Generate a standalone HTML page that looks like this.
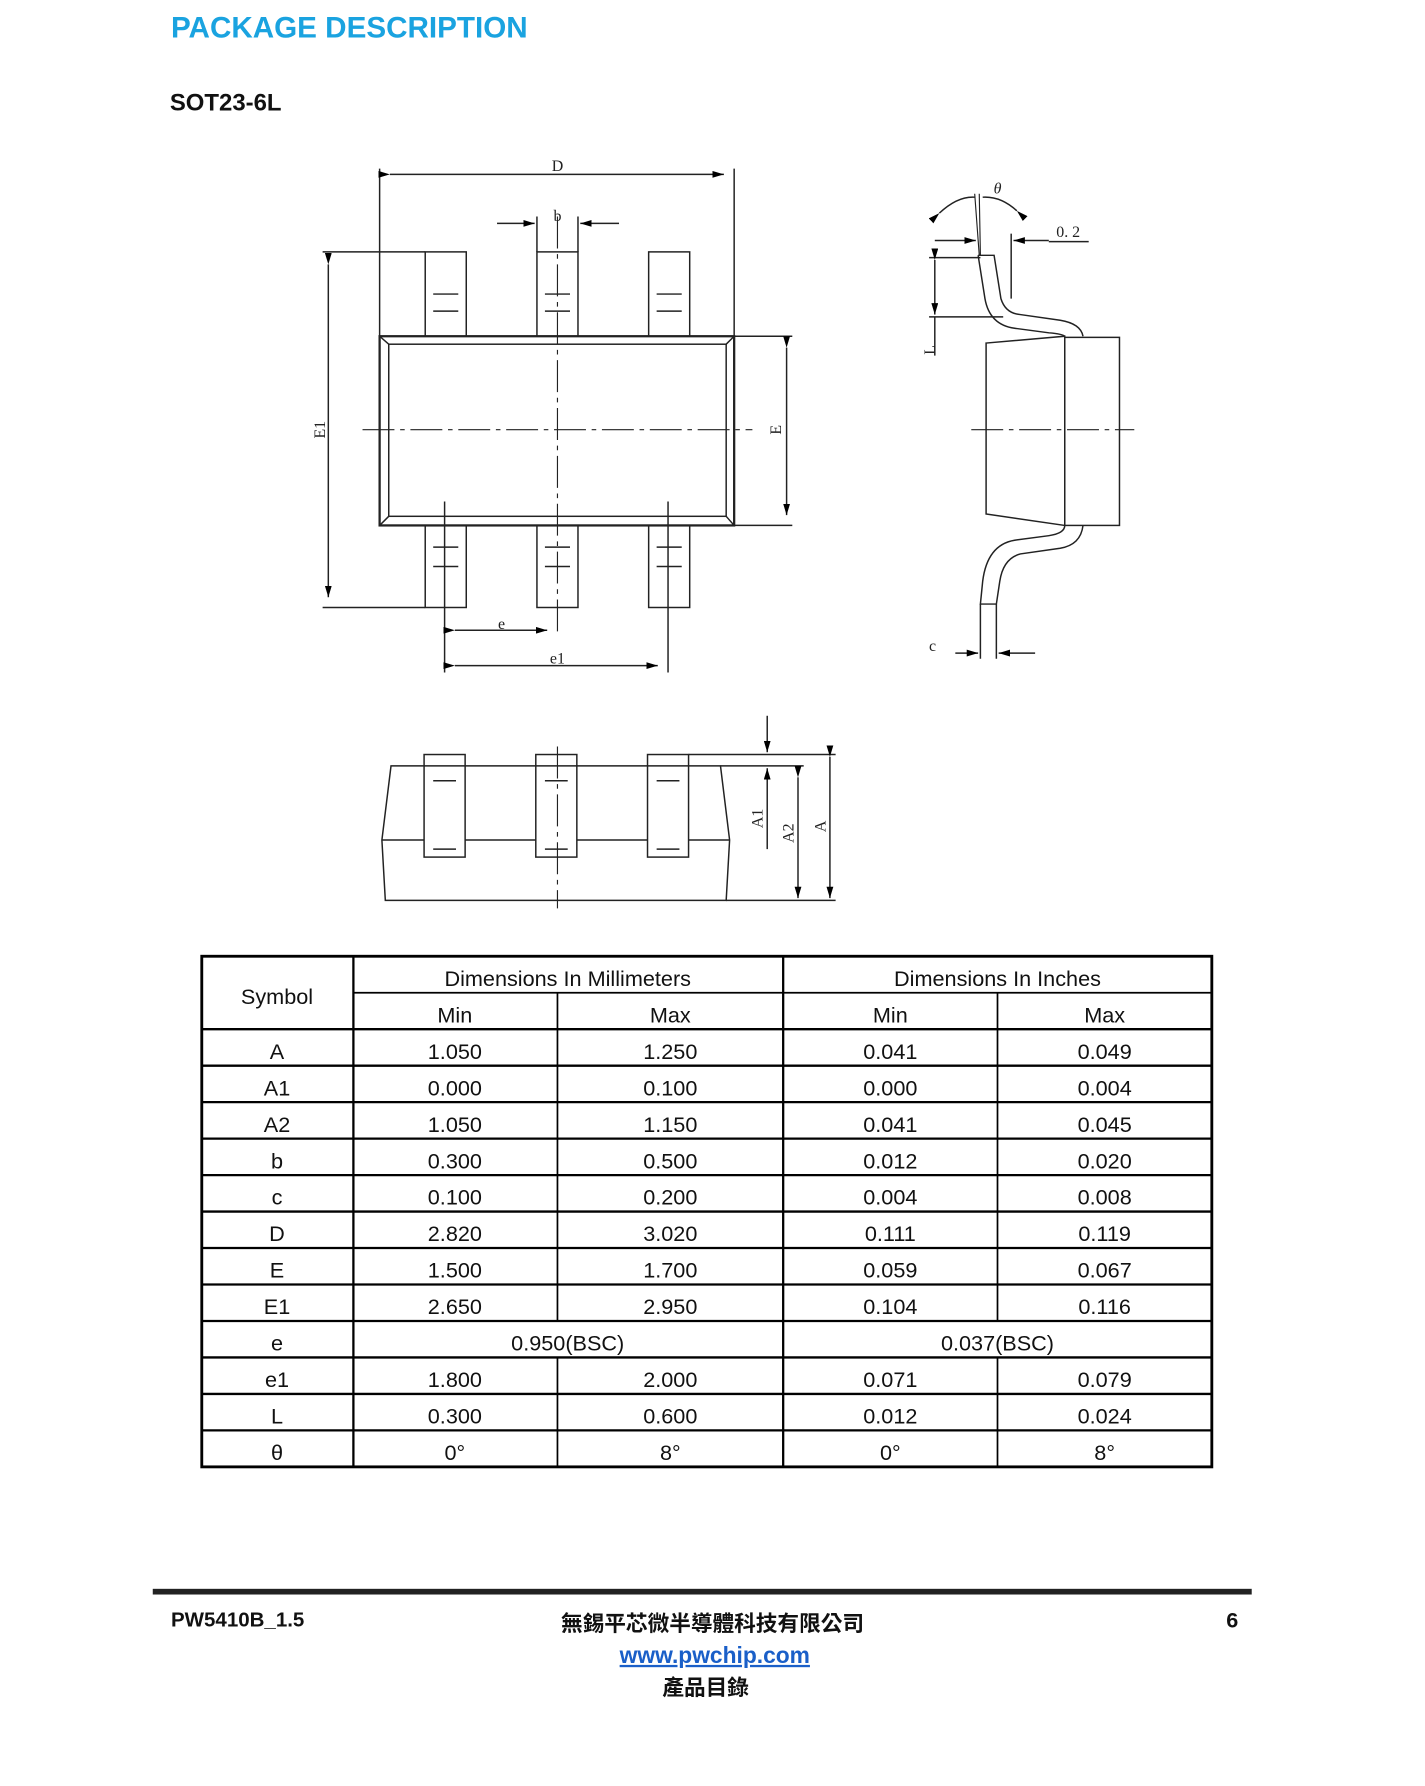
<!DOCTYPE html>
<html><head><meta charset="utf-8"><style>
html,body{margin:0;padding:0;background:#fff;}
svg{display:block;}
</style></head><body>
<svg width="1425" height="1786" viewBox="0 0 1250 1567" preserveAspectRatio="none" xmlns="http://www.w3.org/2000/svg">
<defs>
<marker id="ar" viewBox="0 0 10 6" refX="10" refY="3" markerWidth="10" markerHeight="6" markerUnits="userSpaceOnUse" orient="auto"><path d="M0,0 L10,3 L0,6 z" fill="#000"/></marker>
</defs>
<text x="150" y="33" font-family="Liberation Sans, sans-serif" font-weight="bold" font-size="26" fill="#1aa3e0">PACKAGE DESCRIPTION</text>
<text x="149" y="97" font-family="Liberation Sans, sans-serif" font-weight="bold" font-size="21" fill="#111">SOT23-6L</text>

<g fill="none" stroke="#222" stroke-width="1.3" font-family="Liberation Serif, serif">
<rect x="333" y="295" width="311" height="166" stroke-width="2"/>
<rect x="341" y="302" width="296" height="151"/>
<path d="M333,295 L341,302 M644,295 L637,302 M333,461 L341,453 M644,461 L637,453"/>
<rect x="373" y="221" width="36" height="74"/><rect x="471" y="221" width="36" height="74"/><rect x="569" y="221" width="36" height="74"/>
<rect x="373" y="461" width="36" height="72"/><rect x="471" y="461" width="36" height="72"/><rect x="569" y="461" width="36" height="72"/>
<path d="M380,258h22M380,273h22M478,258h22M478,273h22M576,258h22M576,273h22"/>
<path d="M380,480h22M380,497h22M478,480h22M478,497h22M576,480h22M576,497h22"/>
<path d="M318,377H660" stroke-dasharray="28,5,4,5" stroke-width="1"/>
<path d="M489,190V555" stroke-dasharray="28,5,4,5" stroke-width="1"/>
<path d="M390,440V590M586,440V590"/>
<path d="M333,148V295M644,148V295"/>
<path d="M342,153H635" marker-start="url(#ar)" marker-end="url(#ar)"/>
<path d="M471,190V221M507,190V221"/>
<path d="M436,196H469" marker-end="url(#ar)"/><path d="M543,196H509" marker-end="url(#ar)"/>
<path d="M283,221H373M283,533H373"/>
<path d="M288,232V524" marker-start="url(#ar)" marker-end="url(#ar)"/>
<path d="M644,295H695M644,461H695"/>
<path d="M690,305V452" marker-start="url(#ar)" marker-end="url(#ar)"/>
<path d="M399,553H480" marker-start="url(#ar)" marker-end="url(#ar)"/>
<path d="M399,584H577" marker-start="url(#ar)" marker-end="url(#ar)"/>

<path d="M865,301 L934,295 L934,461 L865,451 Z"/>
<rect x="934" y="296" width="48" height="165"/>
<path d="M858,224 L872,224 L878,262 Q882,275 895,276 L930,281 Q948,284 950,295"/>
<path d="M858,224 L864,262 Q868,285 890,288 L920,292 Q932,293 934,295"/>
<path d="M950,461 Q948,478 930,481 L895,486 Q880,490 877,510 L874,530 L860,530 L862,510 Q866,478 890,474 L920,470 Q934,468 934,461"/>
<path d="M852,377H995" stroke-dasharray="28,5,4,5" stroke-width="1"/>
<path d="M855,170 L859,224M859,170 L860,224" stroke-width="1"/>
<path d="M824,187 Q840,172 855,173" marker-start="url(#ar)"/>
<path d="M892,185 Q878,172 862,173" marker-start="url(#ar)"/>
<path d="M887,205V262"/>
<path d="M820,211H856" marker-end="url(#ar)"/><path d="M920,211H889" marker-end="url(#ar)"/>
<path d="M920,212H955"/>
<path d="M815,226H860M815,278H880"/>
<path d="M820,228V276" marker-start="url(#ar)" marker-end="url(#ar)"/>
<path d="M820,278V312"/>
<path d="M860,530V578M874,530V578"/>
<path d="M838,573H858" marker-end="url(#ar)"/><path d="M908,573H876" marker-end="url(#ar)"/>

<path d="M343,672 L632,672 L640,737 L637,790 L338,790 L335,737 Z"/>
<path d="M335,737H640"/>
<rect x="372" y="662" width="36" height="90" fill="#fff"/><rect x="470" y="662" width="36" height="90" fill="#fff"/><rect x="568" y="662" width="36" height="90" fill="#fff"/>
<path d="M372,672h36M470,672h36M568,672h36"/>
<path d="M380,685h20M478,685h20M576,685h20M380,745h20M478,745h20M576,745h20"/>
<path d="M489,655V797" stroke-dasharray="28,5,4,5" stroke-width="1"/>
<path d="M604,662H733M632,672H705M637,790H733"/>
<path d="M673,628V660" marker-end="url(#ar)"/>
<path d="M673,745V674" marker-end="url(#ar)"/>
<path d="M700,682V788" marker-start="url(#ar)" marker-end="url(#ar)"/>
<path d="M728,664V788" marker-start="url(#ar)" marker-end="url(#ar)"/>
</g>
<g font-family="Liberation Serif, serif" font-size="14" fill="#222" text-anchor="middle">
<text x="489" y="150">D</text>
<text x="489" y="194">b</text>
<text x="440" y="552">e</text>
<text x="489" y="582">e1</text>
<text x="875" y="170" font-style="italic">θ</text>
<text x="937" y="208">0. 2</text>
<text x="818" y="571">c</text>
<text transform="translate(285,377) rotate(-90)">E1</text>
<text transform="translate(685,377) rotate(-90)">E</text>
<text transform="translate(820,307) rotate(-90)">L</text>
<text transform="translate(669,718) rotate(-90)">A1</text>
<text transform="translate(696,731) rotate(-90)">A2</text>
<text transform="translate(724,725) rotate(-90)">A</text>
</g>

<g stroke="#000" fill="none">
<rect x="177" y="839" width="886" height="448" stroke-width="2.5"/>
<path d="M310,839V1287M687,839V1287" stroke-width="2"/>
<path d="M489,871V1159M875,871V1159M489,1191V1287M875,1191V1287" stroke-width="1.5"/>
<path d="M310,871H1063" stroke-width="1.5"/>
<path d="M177,903H1063M177,935H1063M177,967H1063M177,999H1063M177,1031H1063M177,1063H1063M177,1095H1063M177,1127H1063M177,1159H1063M177,1191H1063M177,1223H1063M177,1255H1063" stroke-width="2"/>
</g>
<g font-family="Liberation Sans, sans-serif" font-size="19" fill="#111" text-anchor="middle">
<text x="243" y="881">Symbol</text>
<text x="498" y="865">Dimensions In Millimeters</text>
<text x="875" y="865">Dimensions In Inches</text>
<text x="399" y="897">Min</text><text x="588" y="897">Max</text><text x="781" y="897">Min</text><text x="969" y="897">Max</text>
<text x="243" y="929">A</text><text x="399" y="929">1.050</text><text x="588" y="929">1.250</text><text x="781" y="929">0.041</text><text x="969" y="929">0.049</text>
<text x="243" y="961">A1</text><text x="399" y="961">0.000</text><text x="588" y="961">0.100</text><text x="781" y="961">0.000</text><text x="969" y="961">0.004</text>
<text x="243" y="993">A2</text><text x="399" y="993">1.050</text><text x="588" y="993">1.150</text><text x="781" y="993">0.041</text><text x="969" y="993">0.045</text>
<text x="243" y="1025">b</text><text x="399" y="1025">0.300</text><text x="588" y="1025">0.500</text><text x="781" y="1025">0.012</text><text x="969" y="1025">0.020</text>
<text x="243" y="1057">c</text><text x="399" y="1057">0.100</text><text x="588" y="1057">0.200</text><text x="781" y="1057">0.004</text><text x="969" y="1057">0.008</text>
<text x="243" y="1089">D</text><text x="399" y="1089">2.820</text><text x="588" y="1089">3.020</text><text x="781" y="1089">0.111</text><text x="969" y="1089">0.119</text>
<text x="243" y="1121">E</text><text x="399" y="1121">1.500</text><text x="588" y="1121">1.700</text><text x="781" y="1121">0.059</text><text x="969" y="1121">0.067</text>
<text x="243" y="1153">E1</text><text x="399" y="1153">2.650</text><text x="588" y="1153">2.950</text><text x="781" y="1153">0.104</text><text x="969" y="1153">0.116</text>
<text x="243" y="1185">e</text><text x="498" y="1185">0.950(BSC)</text><text x="875" y="1185">0.037(BSC)</text>
<text x="243" y="1217">e1</text><text x="399" y="1217">1.800</text><text x="588" y="1217">2.000</text><text x="781" y="1217">0.071</text><text x="969" y="1217">0.079</text>
<text x="243" y="1249">L</text><text x="399" y="1249">0.300</text><text x="588" y="1249">0.600</text><text x="781" y="1249">0.012</text><text x="969" y="1249">0.024</text>
<text x="243" y="1281">θ</text><text x="399" y="1281">0°</text><text x="588" y="1281">8°</text><text x="781" y="1281">0°</text><text x="969" y="1281">8°</text>
</g>

<rect x="134" y="1394" width="964" height="5" fill="#222"/>
<text x="150" y="1427" font-family="Liberation Sans, sans-serif" font-weight="bold" font-size="18" fill="#111">PW5410B_1.5</text>
<text x="1081" y="1428" font-family="Liberation Sans, sans-serif" font-weight="bold" font-size="19" fill="#111" text-anchor="middle">6</text>
<text x="625" y="1431" font-family="Liberation Sans, 'Noto Sans CJK TC', sans-serif" font-weight="bold" font-size="19" fill="#111" text-anchor="middle">無錫平芯微半導體科技有限公司</text>
<text x="627" y="1459" font-family="Liberation Sans, sans-serif" font-weight="bold" font-size="20" fill="#1a5fc8" text-anchor="middle" text-decoration="underline">www.pwchip.com</text>
<text x="619" y="1487" font-family="Liberation Sans, 'Noto Sans CJK TC', sans-serif" font-weight="bold" font-size="19" fill="#111" text-anchor="middle">產品目錄</text>
</svg>
</body></html>
